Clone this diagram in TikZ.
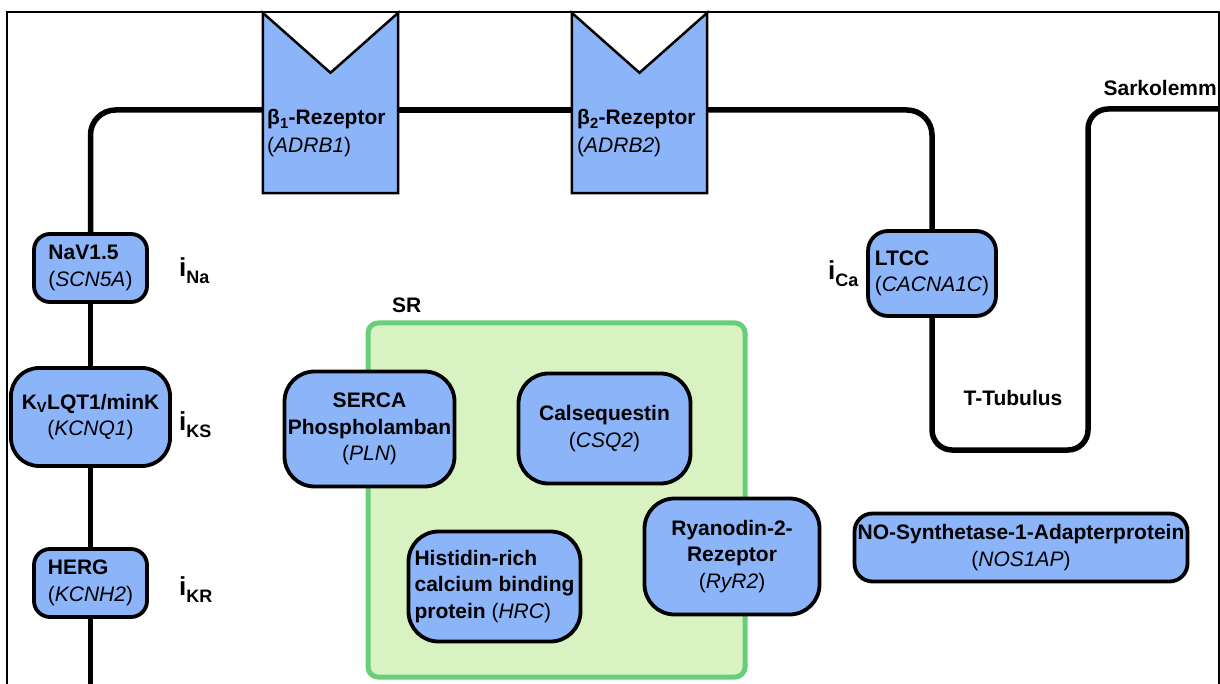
\documentclass[tikz,border=0pt]{standalone}
\usepackage{fontspec}
\setmainfont{Liberation Sans}
\usetikzlibrary{calc}
\definecolor{boxblue}{RGB}{140,180,248}
\definecolor{srfill}{RGB}{217,242,194}
\definecolor{srline}{RGB}{104,206,122}
\newcommand\curlab[1]{\textbf{{\fontsize{26}{26}\selectfont i}\raisebox{-7pt}{\fontsize{18}{18}\selectfont #1}}}
\begin{document}
\begin{tikzpicture}[x=1pt,y=-1pt,
  every node/.style={font=\fontsize{21}{26.5}\selectfont, inner sep=0pt},
  prot/.style={draw=black, line width=3.8pt, fill=boxblue, rounded corners=#1, align=center},
  prot/.default=30pt,
  protl/.style={prot=#1, align=left},
  protl/.default=16pt,
  mem/.style={draw=black, line width=5.5pt},
  recep/.style={draw=black, line width=2.5pt, fill=boxblue, line join=miter},
  lbl/.style={font=\fontsize{21}{26.5}\selectfont\bfseries}
]
\useasboundingbox (0,0) rectangle (1220,684);
\fill[white] (0,0) rectangle (1220,684);
% frame
\draw[line width=2pt] (7,686) -- (7,12) -- (1218.5,12) -- (1218.5,686);

% SR
\node[draw=srline, fill=srfill, line width=5pt, rounded corners=10pt,
      minimum width=377pt, minimum height=354pt] (sr) at (556.5,500) {};
\node[lbl, anchor=base west] (srl) at (392,313) {SR};

% nodes on the membrane
\node[protl=16pt, minimum width=113pt, minimum height=68pt] (nav) at (90.5,268)
  {\textbf{NaV1.5}\\(\textit{SCN5A})};
\node[prot=28pt, minimum width=159pt, minimum height=98pt] (kv) at (90.5,417)
  {\textbf{K\textsubscript{V}LQT1/minK}\\(\textit{KCNQ1})};
\node[protl=16pt, minimum width=113pt, minimum height=68pt] (herg) at (90.5,583)
  {\textbf{HERG}\\(\textit{KCNH2})};
\node[protl=20pt, minimum width=128pt, minimum height=85pt] (ltcc) at (932,273.5)
  {\textbf{LTCC}\\(\textit{CACNA1C})};

% receptors (frames)
\node[minimum width=135pt, minimum height=180pt] (b1) at (330.5,103) {};
\node[minimum width=135pt, minimum height=180pt] (b2) at (639.5,103) {};

\coordinate (mbot) at (90.5,690);
\coordinate (tt) at (1088,450);
\coordinate (send) at (1225,109);

% membrane connectors
\draw[mem] (mbot) -- (herg.south);
\draw[mem] (herg.north) -- (kv.south);
\draw[mem] (kv.north) -- (nav.south);
\draw[mem, rounded corners=25pt] (nav.north) |- ([yshift=-7pt]b1.west);
\draw[mem] ([yshift=-7pt]b1.east) -- ([yshift=-7pt]b2.west);
\draw[mem, rounded corners=25pt] ([yshift=-7pt]b2.east) -| (ltcc.north);
\draw[mem, rounded corners=20pt] (ltcc.south) |- (tt) |- (send);

% receptor shapes
\draw[recep] (b1.north west) -- ($(b1.north)+(0,60)$) -- (b1.north east)
  -- (b1.south east) -- (b1.south west) -- cycle;
\draw[recep] (b2.north west) -- ($(b2.north)+(0,60)$) -- (b2.north east)
  -- (b2.south east) -- (b2.south west) -- cycle;
\node[lbl, anchor=base west] (b1a) at (267,125) {β\textsubscript{1}-Rezeptor};
\node[anchor=base west] (b1b) at (267,153) {(\textit{ADRB1})};
\node[lbl, anchor=base west] (b2a) at (577,125) {β\textsubscript{2}-Rezeptor};
\node[anchor=base west] (b2b) at (577,153) {(\textit{ADRB2})};

% current labels
\node[anchor=base west] (ina) at (179,277) {\curlab{Na}};
\node[anchor=base west] (iks) at (179,430) {\curlab{KS}};
\node[anchor=base west] (ikr) at (179,595) {\curlab{KR}};
\node[anchor=base west] (ica) at (828,280) {\curlab{Ca}};

% SR proteins
\node[prot=30pt, minimum width=170pt, minimum height=115pt] (serca) at (369.5,429)
  {\textbf{SERCA}\\\textbf{Phospholamban}\\(\textit{PLN})};
\node[prot=30pt, minimum width=172pt, minimum height=110pt] (csq) at (604.5,428.5)
  {\textbf{Calsequestin}\\(\textit{CSQ2})};
\node[protl=30pt, minimum width=172pt, minimum height=110pt] (hrc) at (494.5,586.5)
  {\textbf{Histidin-rich}\\\textbf{calcium binding}\\\textbf{protein} (\textit{HRC})};
\node[prot=30pt, minimum width=175pt, minimum height=116pt] (ryr) at (732,556.5)
  {\textbf{Ryanodin-2-}\\\textbf{Rezeptor}\\(\textit{RyR2})};
\node[prot=18pt, minimum width=333pt, minimum height=68pt] (nos) at (1021,547.5)
  {\textbf{NO-Synthetase-1-Adapterprotein}\\(\textit{NOS1AP})};

% other labels
\node[lbl, anchor=base east] (sark) at (1217,96) {Sarkolemm};
\node[lbl, anchor=base] (ttl) at (1013,405) {T-Tubulus};
\end{tikzpicture}
\end{document}
